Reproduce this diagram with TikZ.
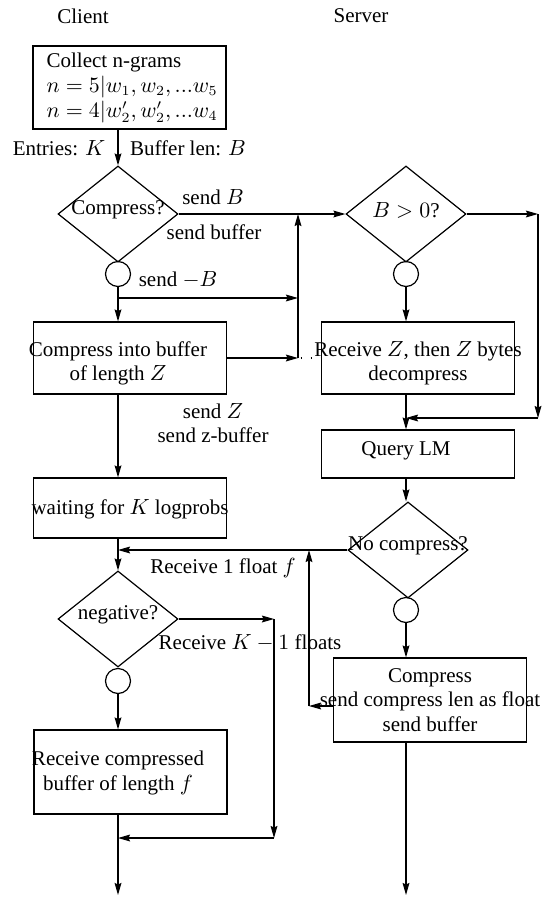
\documentclass[tikz,border=0pt]{standalone}
\usepackage[no-math]{fontspec}
\setmainfont{Liberation Serif}
\usetikzlibrary{shapes.geometric,arrows.meta}

\begin{document}
\begin{tikzpicture}[x=0.5pt, y=-0.5pt, line width=0.6pt,
		box/.style={draw, rectangle, minimum width=96.5pt, inner sep=0pt},
		decision/.style={draw, diamond, minimum width=60pt, minimum height=48pt, inner sep=0pt},
		joint/.style={draw, circle, minimum size=12.5pt, inner sep=0pt},
		txt/.style={align=center, inner sep=0pt},
		flow/.style={-{Stealth[length=6pt, width=3.4pt, inset=0.8pt]}}]
		\tikzstyle{every node}=[font=\fontsize{10.5pt}{12.1pt}\selectfont]
		\useasboundingbox (0,0) rectangle (544,899);
		% column titles
		\node [txt] (client) at (83,16) {Client};
		\node [txt] (server) at (361,16) {Server};
		% client side
		\node [box, minimum height=41.5pt] (collect) at (129.5,87.5) {};
		\node [txt, align=left, anchor=west, font=\fontsize{10.5pt}{12.4pt}\selectfont] (collectt) at (46,88) {Collect n-grams\\$n=5|w_1, w_2, ...w_5$\\$n=4|w'_2, w'_2, ...w_4$};
		\node [decision] (comp) at (118,214) {};
		\node [txt, yshift=2pt] (compt) at (comp.center) {Compress?};
		\node [joint] (j1) at (118,274) {};
		\node [box, minimum height=36pt] (cbuf) at (130,358) {};
		\node [txt] (cbuft) at (118,363) {Compress into buffer\\of length $Z$};
		\node [box, minimum height=30pt] (waitk) at (130,508) {};
		\node [txt] (waitkt) at (130,509) {waiting for $K$ logprobs};
		\node [decision] (neg) at (118,619) {};
		\node [txt, yshift=2pt] (negt) at (neg.center) {negative?};
		\node [joint] (j3) at (118,681) {};
		\node [box, minimum height=42pt] (rcv) at (130.5,772) {};
		\node [txt] (rcvt) at (118,773) {Receive compressed\\buffer of length $f$};
		% server side
		\node [decision] (bpos) at (406,214) {};
		\node [txt, yshift=2pt] (bpost) at (bpos.center) {$B>0$?};
		\node [joint] (j2) at (406,274) {};
		\node [box, minimum height=36pt] (rz) at (418,358) {};
		\node [txt] (rzt) at (418,363) {Receive $Z$, then $Z$ bytes\\decompress};
		\node [box, minimum height=24pt] (qlm) at (418,454) {};
		\node [txt] (qlmt) at (406,451) {Query LM};
		\node [decision] (nocomp) at (408,550) {};
		\node [txt, yshift=2pt] (nocompt) at (nocomp.center) {No compress?};
		\node [joint] (j4) at (406,610) {};
		\node [box, minimum height=42pt] (cmpr) at (430,700) {};
		\node [txt] (cmprt) at (430,700) {Compress\\send compress len as float\\send buffer};
		% corner points
		\coordinate (mB) at (118,298);
		\coordinate (rise) at (298,358);
		\coordinate (rtop) at (298,214);
		\coordinate (bskip) at (538,214);
		\coordinate (bjoin) at (538,418);
		\coordinate (fb) at (309,706);
		\coordinate (kr) at (274,619);
		\coordinate (kb) at (274,838);
		\coordinate (outl) at (118,895);
		\coordinate (outr) at (406,895);
		% client flow
		\draw [flow] (comp.north |- collect.south) -- (comp.north);
		\draw [flow] (j1.south) -- (j1.south |- cbuf.north);
		\draw [flow] (mB) -- (rise |- mB);
		\draw [flow] (cbuf.east) -- (rise);
		\draw [dash pattern=on 0.6pt off 4.4pt] ([xshift=1.3pt]rise) -- (rz.west);
		\draw [flow] (rise) -- (rtop);
		\draw [flow] (comp.east) -- (bpos.west);
		\draw [flow] (j1 |- cbuf.south) -- (j1 |- waitk.north);
		\draw [flow] (j1 |- waitk.south) -- (neg.north);
		\draw [flow] (j3.south) -- (j3.south |- rcv.north);
		\draw [flow] (j3 |- rcv.south) -- (outl);
		\draw [flow] (neg.east) -- (kr);
		\draw [flow] (kr) -- (kb);
		\draw [flow] (kb) -- (j3 |- kb);
		% server flow
		\draw [flow] (bpos.east) -- (bskip);
		\draw [flow] (bskip) -- (bjoin);
		\draw [flow] (bjoin) -- (j2 |- bjoin);
		\draw [flow] (j2.south) -- (j2.south |- rz.north);
		\draw [flow] (j2 |- rz.south) -- (j2 |- qlm.north);
		\draw [flow] (j2 |- qlm.south) -- (j2 |- nocomp.north);
		\draw [flow] (nocomp.west) -- (j1 |- nocomp.west);
		\draw [flow] (j4.south) -- (j4.south |- cmpr.north);
		\draw [flow] (cmpr.west |- fb) -- (fb);
		\draw [flow] (fb) -- (fb |- nocomp.west);
		\draw [flow] (j4 |- cmpr.south) -- (outr);
		% connector labels
		\node [txt] (lentries) at (59,148) {Entries: $K$};
		\node [txt] (lbuflen) at (188,148) {Buffer len: $B$};
		\node [txt] (lsendb) at (213,197) {send $B$};
		\node [txt] (lsendbuf) at (214,232) {send buffer};
		\node [txt] (lsendmb) at (178,280) {send $-B$};
		\node [txt] (lsendz) at (213,423) {send $Z$\\send z-buffer};
		\node [txt] (lfloat) at (223,568) {Receive 1 float $f$};
		\node [txt] (lkfloats) at (250,643) {Receive $K-1$ floats};
	\end{tikzpicture}
\end{document}
